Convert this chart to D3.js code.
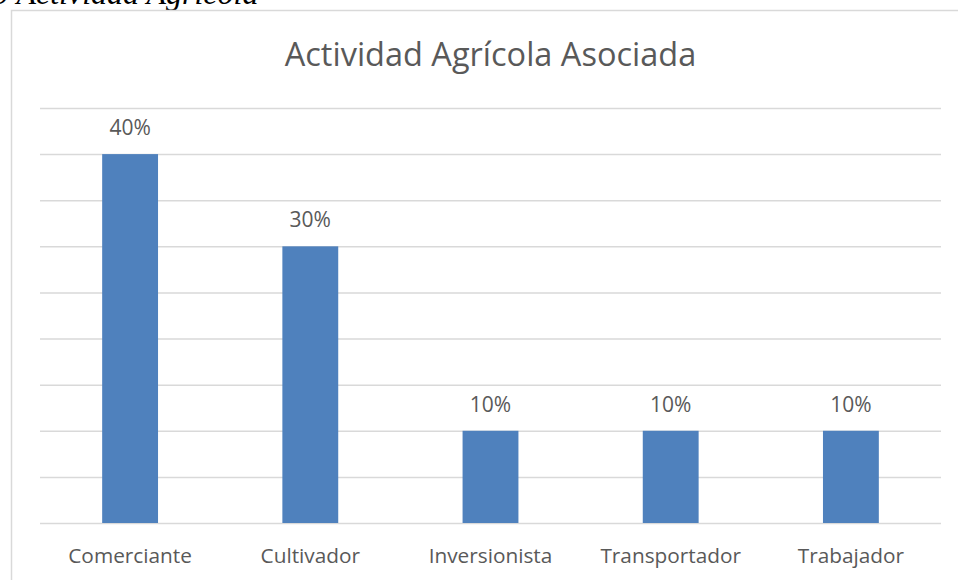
<!DOCTYPE html>
<html>
<head>
<meta charset="utf-8">
<script src="https://cdn.jsdelivr.net/npm/d3@7"></script>
<style>
  body { margin: 0; background: #fff; }
  svg { display: block; }
  .title { font-family: "Open Sans", sans-serif; fill: #595959; }
  .catLabel, .valueLabel { font-family: "Open Sans", sans-serif; fill: #595959; }
  .caption { font-family: "Liberation Serif", serif; font-style: italic; fill: #000; }
</style>
</head>
<body>
<div id="chart"></div>
<script>
// data
var categories = ["Comerciante", "Cultivador", "Inversionista", "Transportador", "Trabajador"];
var values = [40, 30, 10, 10, 10];
var tickValues = [0, 5, 10, 15, 20, 25, 30, 35, 40, 45];
var chartTitle = "Actividad Agrícola Asociada";

var width = 958, height = 580;
var margin = {top: 108, right: 17, bottom: 57, left: 40};

var svg = d3.select("#chart").append("svg")
    .attr("width", width)
    .attr("height", height);

// caption of the figure, cut by the top edge
svg.append("text")
    .attr("class", "caption")
    .attr("x", -7)
    .attr("y", 4)
    .style("font-size", "32px")
    .text("9 Actividad Agrícola");

// chart frame
svg.append("rect")
    .attr("x", 11.5)
    .attr("y", 10.5)
    .attr("width", width)
    .attr("height", height)
    .attr("fill", "none")
    .attr("stroke", "#d9d9d9")
    .attr("stroke-width", 1.5);

var x = d3.scaleBand()
    .domain(categories)
    .range([margin.left, width - margin.right])
    .paddingInner(0.69)
    .paddingOuter(0.345);

var y = d3.scaleLinear()
    .domain([0, 45])
    .range([height - margin.bottom, margin.top]);

// gridlines
svg.append("g")
    .attr("class", "grid")
    .attr("transform", "translate(" + margin.left + ",0)")
    .call(d3.axisLeft(y)
        .tickValues(tickValues)
        .tickSize(-(width - margin.right - margin.left))
        .tickFormat(""))
    .call(function(g){ g.select(".domain").remove(); })
    .selectAll("line")
    .attr("stroke", "#d9d9d9")
    .attr("stroke-width", 1.5);

// bars
svg.selectAll("rect.bar")
    .data(values)
    .enter().append("rect")
    .attr("class", "bar")
    .attr("x", function(d, i){ return x(categories[i]); })
    .attr("width", x.bandwidth())
    .attr("y", function(d){ return y(d); })
    .attr("height", function(d){ return y(0) - y(d); })
    .attr("fill", "#4f81bd");

// value labels
svg.selectAll("text.valueLabel")
    .data(values)
    .enter().append("text")
    .attr("class", "valueLabel")
    .attr("x", function(d, i){ return x(categories[i]) + x.bandwidth() / 2; })
    .attr("y", function(d){ return y(d) - 19; })
    .attr("text-anchor", "middle")
    .style("font-size", "21px")
    .text(function(d){ return d + "%"; });

// category axis labels
var xAxis = svg.append("g")
    .attr("transform", "translate(0," + (height - margin.bottom) + ")")
    .call(d3.axisBottom(x).tickSize(0).tickPadding(25.5));
xAxis.select(".domain").remove();
xAxis.selectAll("text")
    .attr("class", "catLabel")
    .attr("fill", null)
    .style("font-size", "20.8px")
    .style("font-family", null);

// title
svg.append("text")
    .attr("class", "title")
    .attr("x", (margin.left + width - margin.right) / 2)
    .attr("y", 66)
    .attr("text-anchor", "middle")
    .style("font-size", "32.5px")
    .text(chartTitle);
</script>
</body>
</html>
